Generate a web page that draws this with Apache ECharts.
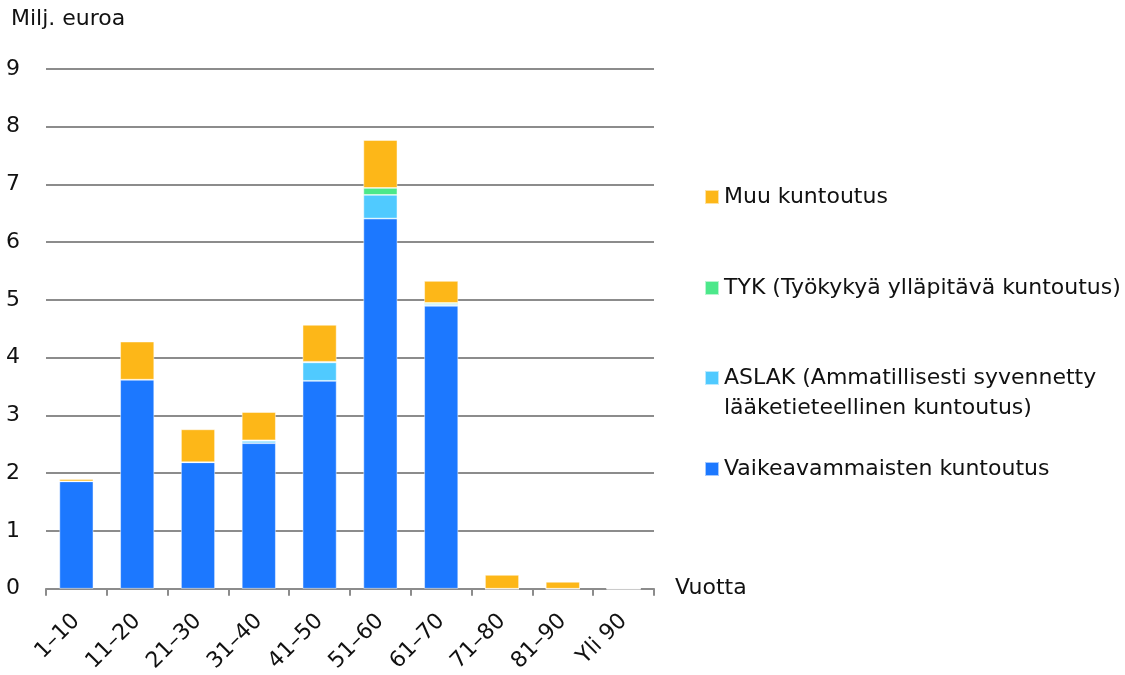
<!DOCTYPE html>
<html>
<head>
<meta charset="utf-8">
<script src="https://cdn.jsdelivr.net/npm/echarts@6/dist/echarts.min.js"></script>
<style>
html,body{margin:0;padding:0;background:#fff;}
#c{width:1125px;height:675px;}
</style>
</head>
<body>
<div id="c"></div>
<script>
const categories = ['1–10','11–20','21–30','31–40','41–50','51–60','61–70','71–80','81–90','Yli 90'];
const vaikea = [1.86, 3.62, 2.19, 2.52, 3.60, 6.41, 4.90, 0, 0, 0];
const aslak  = [0, 0, 0, 0.04, 0.32, 0.41, 0.03, 0, 0, 0];
const tyk    = [0, 0, 0, 0.01, 0.01, 0.12, 0.02, 0, 0, 0];
const muu    = [0.04, 0.66, 0.57, 0.49, 0.64, 0.83, 0.38, 0.24, 0.12, 0];
const yTicks = [0,1,2,3,4,5,6,7,8,9];

const names = {
  muu: 'Muu kuntoutus',
  tyk: 'TYK (Työkykyä ylläpitävä kuntoutus)',
  aslak: 'ASLAK (Ammatillisesti syvennetty\nlääketieteellinen kuntoutus)',
  vaikea: 'Vaikeavammaisten kuntoutus'
};
const colors = {vaikea:'#1C78FF', aslak:'#50CAFF', tyk:'#4CE88A', muu:'#FDB718'};
const FONT = 'DejaVu Sans';
const FS = 22;

function bar(key, data){
  return {
    name: names[key], type:'bar', stack:'a', data:data, barWidth:'56%',
    itemStyle:{color:colors[key], borderColor:'rgba(255,255,255,0.6)', borderWidth:0.8},
    emphasis:{disabled:true}
  };
}
function leg(key, top, extra){
  return Object.assign({
    data:[names[key]], left:704, top:top, orient:'vertical', padding:0,
    itemWidth:14, itemHeight:14, itemGap:0, icon:'rect', selectedMode:false,
    textStyle:{fontFamily:FONT, fontSize:FS, color:'#111', lineHeight:30}
  }, extra||{});
}

const chart = echarts.init(document.getElementById('c'), null, {renderer:'canvas'});
chart.setOption({
  animation:false,
  textStyle:{fontFamily:FONT},
  title:{text:'Milj. euroa', left:11, top:8, padding:0, textStyle:{fontFamily:FONT, fontSize:FS, fontWeight:'normal', color:'#111'}},
  grid:{left:46, right:471, top:69, bottom:86},
  legend:[
    leg('muu', 182),
    leg('tyk', 273),
    leg('aslak', 333, {formatter:function(n){return ' \n'+n;}}),
    leg('vaikea', 454)
  ],
  xAxis:{
    type:'category', data:categories, name:'Vuotta', nameLocation:'end', nameGap:21,
    nameTextStyle:{fontFamily:FONT, fontSize:FS, color:'#111'},
    axisLine:{lineStyle:{color:'#8c8c8c', width:2}},
    axisTick:{show:true, length:7, lineStyle:{color:'#8c8c8c', width:2}},
    axisLabel:{rotate:45, fontFamily:FONT, fontSize:FS, color:'#111', margin:29, interval:0}
  },
  yAxis:{
    type:'value', min:0, max:9, interval:1,
    axisLine:{show:false}, axisTick:{show:false},
    splitLine:{lineStyle:{color:'#8c8c8c', width:2}},
    axisLabel:{fontFamily:FONT, fontSize:FS, color:'#111', margin:26,
      formatter:function(v){return yTicks.indexOf(v)>=0 ? String(v) : '';}}
  },
  series:[bar('vaikea',vaikea), bar('aslak',aslak), bar('tyk',tyk), bar('muu',muu)]
});
</script>
</body>
</html>
